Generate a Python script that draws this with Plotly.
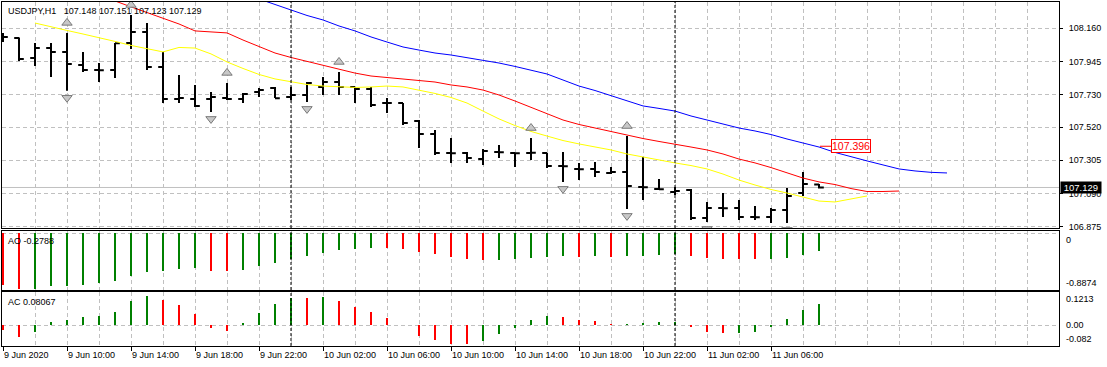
import plotly.graph_objects as go

# ---------------- data ----------------
symbol = "USDJPY,H1"
time_labels = ["9 Jun 2020", "9 Jun 10:00", "9 Jun 14:00", "9 Jun 18:00", "9 Jun 22:00",
               "10 Jun 02:00", "10 Jun 06:00", "10 Jun 10:00", "10 Jun 14:00", "10 Jun 18:00",
               "10 Jun 22:00", "11 Jun 02:00", "11 Jun 06:00"]
label_every = 4          # one time label every 4 hourly bars
day_breaks = [18, 42]    # bar index of 10 Jun 00:00 and 11 Jun 00:00

opens = [108.123, 108.097, 107.968, 108.032, 108.006, 107.922, 107.890, 107.890, 108.065, 108.136,
         107.909, 107.702, 107.702, 107.702, 107.709, 107.702, 107.747, 107.773, 107.715, 107.728,
         107.780, 107.812, 107.780, 107.767, 107.676, 107.676, 107.560, 107.475, 107.352, 107.352,
         107.313, 107.359, 107.352, 107.352, 107.352, 107.268, 107.249, 107.249, 107.223, 107.229,
         107.132, 107.119, 107.100, 107.113, 106.931, 106.996, 106.996, 106.938, 106.938, 106.983,
         107.093, 107.148]
highs = [108.130, 108.100, 108.065, 108.065, 108.130, 108.006, 107.935, 108.065, 108.246, 108.194,
         108.006, 107.858, 107.793, 107.747, 107.806, 107.741, 107.773, 107.780, 107.780, 107.812,
         107.845, 107.877, 107.780, 107.780, 107.709, 107.676, 107.566, 107.501, 107.449, 107.359,
         107.378, 107.404, 107.352, 107.449, 107.352, 107.359, 107.288, 107.294, 107.262, 107.462,
         107.326, 107.184, 107.132, 107.119, 107.035, 107.093, 107.048, 107.009, 106.996, 107.126,
         107.229, 107.151]
lows = [108.071, 107.948, 107.916, 107.845, 107.755, 107.877, 107.812, 107.838, 108.026, 107.890,
        107.676, 107.676, 107.650, 107.618, 107.696, 107.676, 107.715, 107.709, 107.696, 107.683,
        107.728, 107.728, 107.676, 107.650, 107.611, 107.534, 107.385, 107.339, 107.288, 107.288,
        107.275, 107.320, 107.262, 107.307, 107.255, 107.165, 107.177, 107.197, 107.216, 106.990,
        107.048, 107.113, 107.080, 106.918, 106.905, 106.938, 106.918, 106.918, 106.899, 106.899,
        107.074, 107.123]
closes = [108.104, 107.961, 108.032, 108.006, 107.929, 107.890, 107.888, 108.063, 108.136, 107.909,
          107.702, 107.709, 107.657, 107.715, 107.702, 107.734, 107.760, 107.707, 107.728, 107.806,
          107.812, 107.780, 107.767, 107.663, 107.676, 107.547, 107.475, 107.352, 107.350, 107.320,
          107.365, 107.357, 107.350, 107.354, 107.268, 107.266, 107.247, 107.229, 107.229, 107.139,
          107.130, 107.118, 107.106, 106.931, 106.996, 106.994, 106.938, 106.936, 106.983, 107.074,
          107.151, 107.129]

# Alligator lines (first bar index of each, then values)
jaw_start = 16
jaw = [108.350, 108.314, 108.275, 108.243, 108.214, 108.175, 108.143, 108.104, 108.071, 108.039,
       108.019, 108.000, 107.987, 107.971, 107.955, 107.935, 107.913, 107.890, 107.864, 107.825,
       107.786, 107.757, 107.725, 107.692, 107.657, 107.641, 107.624, 107.592, 107.566, 107.540,
       107.514, 107.495, 107.472, 107.443, 107.417, 107.391, 107.356, 107.326, 107.301, 107.275,
       107.249, 107.236, 107.227, 107.223]
teeth_start = 6
teeth = [108.369, 108.337, 108.299, 108.262, 108.227, 108.188, 108.143, 108.136, 108.130, 108.084,
         108.042, 108.000, 107.971, 107.945, 107.919, 107.896, 107.870, 107.851, 107.841, 107.832,
         107.825, 107.812, 107.793, 107.780, 107.760, 107.728, 107.689, 107.647, 107.605, 107.566,
         107.537, 107.514, 107.492, 107.469, 107.446, 107.427, 107.407, 107.391, 107.372, 107.346,
         107.313, 107.288, 107.258, 107.223, 107.190, 107.165, 107.148, 107.122, 107.103, 107.103,
         107.106]
lips_start = 2
lips = [108.194, 108.168, 108.146, 108.123, 108.100, 108.075, 108.049, 108.026, 108.007, 108.036,
        108.032, 107.994, 107.942, 107.900, 107.861, 107.832, 107.812, 107.796, 107.786, 107.780,
        107.777, 107.780, 107.786, 107.780, 107.760, 107.738, 107.712, 107.676, 107.624, 107.573,
        107.530, 107.492, 107.462, 107.433, 107.411, 107.391, 107.372, 107.346, 107.326, 107.307,
        107.288, 107.271, 107.249, 107.216, 107.177, 107.145, 107.116, 107.093, 107.067, 107.041,
        107.035, 107.054, 107.074]
jaw_label = 107.396

fractal_up = [4, 8, 14, 21, 33, 39]
fractal_down = [4, 13, 19, 35, 39, 44, 49]

ao = [-0.829, -0.8874, -0.882, -0.840, -0.838, -0.822, -0.792, -0.756, -0.676, -0.613,
      -0.597, -0.566, -0.562, -0.597, -0.600, -0.581, -0.518, -0.470, -0.407, -0.359,
      -0.312, -0.264, -0.248, -0.232, -0.234, -0.254, -0.296, -0.328, -0.375, -0.407,
      -0.424, -0.421, -0.418, -0.391, -0.375, -0.359, -0.375, -0.360, -0.375, -0.360,
      -0.357, -0.344, -0.340, -0.360, -0.392, -0.408, -0.412, -0.418, -0.408, -0.392,
      -0.349, -0.2788]
ac = [-0.020, -0.045, -0.027, 0.011, 0.019, 0.030, 0.034, 0.049, 0.091, 0.110,
      0.095, 0.076, 0.042, -0.010, -0.023, 0.008, 0.045, 0.080, 0.103, 0.102,
      0.106, 0.091, 0.068, 0.049, 0.026, 0.001, -0.042, -0.056, -0.071, -0.072,
      -0.061, -0.033, -0.013, 0.019, 0.034, 0.030, 0.019, 0.015, 0.004, 0.005,
      0.008, 0.011, 0.012, -0.008, -0.027, -0.031, -0.029, -0.0265, -0.0076, 0.023,
      0.057, 0.08067]

price_ticks = [108.160, 107.945, 107.730, 107.520, 107.305, 107.090, 106.875]
ao_scale = [0, -0.8874]
ac_scale = [0.1213, 0.00, -0.082]

# ---------------- styling ----------------
FONT = "Liberation Sans, Arial, sans-serif"
GRID = "#c0c0c0"
GDASH = "4px,3px"
GREEN, RED = "#008000", "#ff0000"
W, H = 1107, 367
ML, MR, MT, MB = 2, 48, 2, 21
PH = H - MT - MB


def dom(ytop, ybot):
    return [(H - MB - ybot) / PH, (H - MB - ytop) / PH]


def hist_colors(vals):
    return [RED] + [GREEN if vals[i] > vals[i - 1] else RED for i in range(1, len(vals))]


n = len(closes)
idx = list(range(n))

fig = go.Figure()

fig.add_trace(go.Ohlc(x=idx, open=opens, high=highs, low=lows, close=closes,
                      increasing=dict(line=dict(color="black", width=2)),
                      decreasing=dict(line=dict(color="black", width=2)),
                      tickwidth=0.3, xaxis="x", yaxis="y", hoverinfo="skip"))

for start, vals, col in [(jaw_start, jaw, "#0000ff"), (teeth_start, teeth, "#ff0000"),
                         (lips_start, lips, "#ffff00")]:
    fig.add_trace(go.Scatter(x=list(range(start, start + len(vals))), y=vals, mode="lines",
                             line=dict(color=col, width=1), xaxis="x", yaxis="y",
                             hoverinfo="skip"))

fig.add_trace(go.Scatter(x=fractal_up, y=[highs[i] + 0.065 for i in fractal_up], mode="markers",
                         marker=dict(symbol="triangle-up", size=9, color="#c8c8c8",
                                     line=dict(color="#7a7a7a", width=1)),
                         xaxis="x", yaxis="y", hoverinfo="skip"))
fig.add_trace(go.Scatter(x=fractal_down, y=[lows[i] - 0.045 for i in fractal_down], mode="markers",
                         marker=dict(symbol="triangle-down", size=9, color="#c8c8c8",
                                     line=dict(color="#7a7a7a", width=1)),
                         xaxis="x", yaxis="y", hoverinfo="skip"))

fig.add_trace(go.Bar(x=idx, y=ao, width=0.125, marker=dict(color=hist_colors(ao), line=dict(width=0)),
                     xaxis="x2", yaxis="y2", hoverinfo="skip"))
fig.add_trace(go.Bar(x=idx, y=ac, width=0.125, marker=dict(color=hist_colors(ac), line=dict(width=0)),
                     xaxis="x3", yaxis="y3", hoverinfo="skip"))

x_range = [-0.0625, 66.0]
tick_idx = [i * label_every for i in range(len(time_labels))]

xbase = dict(range=x_range, showline=True, mirror=True, linecolor="black", linewidth=1,
             showticklabels=False, zeroline=False, fixedrange=True)
xgrid = dict(tickmode="linear", tick0=0, dtick=2, ticks="", showgrid=True,
             gridcolor=GRID, griddash=GDASH, gridwidth=1)

ybase = dict(side="right", showline=True, mirror=True, linecolor="black", linewidth=1,
             zeroline=False, fixedrange=True, showgrid=True, gridcolor=GRID, griddash=GDASH)

fig.update_layout(
    width=W, height=H, autosize=False,
    margin=dict(l=ML, r=MR, t=MT, b=MB, pad=0),
    paper_bgcolor="white", plot_bgcolor="white",
    showlegend=False, bargap=0,
    font=dict(family=FONT, size=9, color="black"),
    xaxis=dict(**xbase, **xgrid, anchor="y", domain=[0, 1], rangeslider=dict(visible=False)),
    xaxis2=dict(**xbase, **xgrid, anchor="y2", domain=[0, 1], matches="x"),
    xaxis3=dict(**xbase, anchor="y3", domain=[0, 1], matches="x",
                tickmode="array", tickvals=tick_idx, ticks="outside", ticklen=4,
                tickcolor="black", tickwidth=1, showgrid=True, gridcolor=GRID, griddash=GDASH,
                minor=dict(tickmode="linear", tick0=0, dtick=2, ticks="", showgrid=True,
                           gridcolor=GRID, griddash=GDASH, gridwidth=1)),
    yaxis=dict(**ybase, anchor="x", domain=dom(2, 228), range=[106.8665, 108.3303],
               tickmode="array", tickvals=price_ticks, ticktext=[f"{v:.3f}" for v in price_ticks],
               ticks="outside", ticklen=3, tickcolor="black", ticklabelstandoff=4,
               tickfont=dict(family=FONT, size=9, color="black")),
    yaxis2=dict(**ybase, anchor="x2", domain=dom(231, 290), range=[-0.9033, 0.0317],
                tickmode="array", tickvals=[0], showticklabels=False, ticks=""),
    yaxis3=dict(**ybase, anchor="x3", domain=dom(292, 346), range=[-0.0795, 0.125],
                tickmode="array", tickvals=[0], showticklabels=False, ticks=""),
)

shapes = []
# current bid line
shapes.append(dict(type="line", xref="x domain", x0=0, x1=1, yref="y", y0=closes[-1], y1=closes[-1],
                   line=dict(color="#c0c0c0", width=1), layer="below"))
# day separators through all panels
for yr in ["y domain", "y2 domain", "y3 domain"]:
    for d in day_breaks:
        shapes.append(dict(type="line", xref="x", x0=d, x1=d, yref=yr, y0=0, y1=1,
                           line=dict(color="black", width=1, dash="3px,2px")))
# small red lead line for the jaw price label
shapes.append(dict(type="line", xref="x", x0=n - 1 + 0.06, x1=n - 1 + 0.75, yref="y",
                   y0=jaw_label, y1=jaw_label, line=dict(color="red", width=1)))
fig.update_layout(shapes=shapes)

ann = []
o, h, l, c = opens[-1], highs[-1], lows[-1], closes[-1]
ann.append(dict(text=f"{symbol}\u00a0\u00a0\u00a0{o:.3f} {h:.3f} {l:.3f} {c:.3f}",
                xref="paper", x=0, xanchor="left", xshift=4,
                yref="paper", y=1, yanchor="top", yshift=-2, showarrow=False))
ann.append(dict(text=f"AO {ao[-1]:.4f}", xref="paper", x=0, xanchor="left", xshift=4,
                yref="y2 domain", y=1, yanchor="top", yshift=-3, showarrow=False))
ann.append(dict(text=f"AC {ac[-1]:.5f}", xref="paper", x=0, xanchor="left", xshift=4,
                yref="y3 domain", y=1, yanchor="top", yshift=-3, showarrow=False))
# subwindow scale labels
ann.append(dict(text=f"{ao_scale[0]:g}", xref="paper", x=1, xanchor="left", xshift=5,
                yref="y2", y=ao_scale[0], yanchor="top", showarrow=False))
ann.append(dict(text=f"{ao_scale[1]:.4f}", xref="paper", x=1, xanchor="left", xshift=5,
                yref="y2 domain", y=0, yanchor="bottom", showarrow=False))
ann.append(dict(text=f"{ac_scale[0]:.4f}", xref="paper", x=1, xanchor="left", xshift=5,
                yref="y3 domain", y=1, yanchor="top", showarrow=False))
ann.append(dict(text=f"{ac_scale[1]:.2f}", xref="paper", x=1, xanchor="left", xshift=5,
                yref="y3", y=ac_scale[1], yanchor="middle", showarrow=False))
ann.append(dict(text=f"{ac_scale[2]:.3f}", xref="paper", x=1, xanchor="left", xshift=5,
                yref="y3 domain", y=0, yanchor="bottom", showarrow=False))
# time labels
for ti, lab in zip(tick_idx, time_labels):
    ann.append(dict(text=lab, xref="x3", x=ti, xanchor="left", xshift=-1,
                    yref="paper", y=0, yanchor="top", yshift=-2, showarrow=False))
# bid price box
ann.append(dict(text=f"\u00a0{c:.3f}\u00a0", xref="paper", x=1, xanchor="left", xshift=1,
                yref="y", y=c, yanchor="middle", showarrow=False, bgcolor="black",
                borderpad=0, font=dict(color="white", size=9.5, family=FONT)))
# jaw price label
ann.append(dict(text=f"{jaw_label:.3f}", xref="x", x=n - 1 + 0.75, xanchor="left",
                yref="y", y=jaw_label, yanchor="middle", showarrow=False, bgcolor="white",
                bordercolor="red", borderwidth=1, borderpad=0,
                font=dict(color="red", size=10.5, family=FONT)))
fig.update_layout(annotations=ann)

fig.write_html("out.html", config={"displayModeBar": False, "staticPlot": True},
               post_script="document.body.style.margin='0';document.body.style.overflow='hidden';")
